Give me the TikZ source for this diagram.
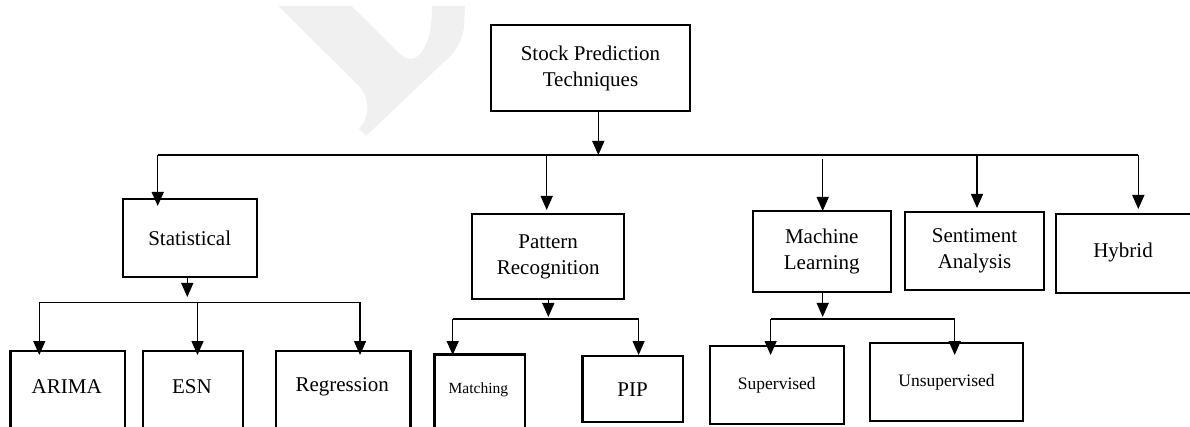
\documentclass[tikz,border=0pt]{standalone}
\usepackage{fontspec}
\setmainfont{Liberation Serif}
\usetikzlibrary{arrows.meta}
\definecolor{wm}{RGB}{240,240,240}
\tikzset{
  box/.style={draw=black, line width=2.2pt, inner sep=0pt, align=center, font=\fontsize{21}{26}\selectfont},
  lbl/.style={inner sep=0pt, align=center, font=\fontsize{21}{26}\selectfont},
  conn/.style={draw=black, line width=1.4pt},
  arr/.style={conn, -{Triangle[length=14pt,width=12pt]}}
}
\begin{document}
\begin{tikzpicture}[x=1pt,y=-1pt]
\useasboundingbox (0,0) rectangle (1190,427);
% watermark
\fill[wm] (278.3,6) -- (351.7,6) -- (399,53) .. controls (406,60) and (414,61) .. (420,54)
  .. controls (428,44) and (432,30) .. (432,6) -- (465,6) -- (464,28)
  .. controls (461,44) and (455,53) .. (444,62) -- (366,136) -- (359,129)
  .. controls (370,117) and (371,99) .. (358,85) -- cycle;
% level 0
\node[box, minimum width=199pt, minimum height=86pt] (top) at (590.5,68) {Stock Prediction\\Techniques};
% level 1
\node[box, minimum width=134pt, minimum height=77.4pt] (stat) at (189.7,238) {Statistical};
\node[box, minimum width=151.7pt, minimum height=85pt] (pat) at (548.2,256.5) {Pattern\\Recognition};
\node[box, minimum width=138.3pt, minimum height=81pt] (ml) at (821.8,251.2) {Machine\\Learning};
\node[box, minimum width=139pt, minimum height=78.6pt] (sent) at (974.5,251) {Sentiment\\Analysis};
\node[box, minimum width=137pt, minimum height=78.4pt, anchor=north west] (hyb) at (1055,213.3) {};
\node[lbl] (hybT) at (1123,252.5) {Hybrid};
% level 2: statistical
\node[box, minimum width=114.7pt, minimum height=90pt, anchor=north west] (arima) at (9.3,350) {};
\node[lbl] (arimaT) at (66.7,387) {ARIMA};
\node[box, minimum width=100.3pt, minimum height=90pt, anchor=north west] (esn) at (141.7,350) {};
\node[lbl] (esnT) at (191.9,387) {ESN};
\node[box, minimum width=134.3pt, minimum height=90pt, anchor=north west] (reg) at (275,350) {};
\node[lbl] (regT) at (342.2,387) {Regression};
% level 2: pattern
\node[box, minimum width=90.2pt, minimum height=90pt, anchor=north west] (match) at (433.3,353.3) {};
\node[lbl, font=\fontsize{15.5}{19}\selectfont] (matchT) at (478.4,390) {Matching};
\node[box, minimum width=100.2pt, minimum height=66.3pt] (pip) at (632.5,389.2) {PIP};
% level 2: ML
\node[box, minimum width=133.9pt, minimum height=78pt, font=\fontsize{17.5}{21}\selectfont] (sup) at (776.8,385) {Supervised};
\node[box, minimum width=152.7pt, minimum height=78pt, font=\fontsize{17.5}{21}\selectfont] (unsup) at (946.5,382.3) {Unsupervised};
% junctions and arrow tips
\coordinate (j0) at (598.3,155);
\coordinate (jL) at (157.7,155);
\coordinate (jR) at (1138.3,155);
\coordinate (tStat) at (157.7,206);
\coordinate (sPat) at (546.7,155);
\coordinate (tPat) at (546.7,210);
\coordinate (sMl) at (822.7,159.3);
\coordinate (tMl) at (822.7,211);
\coordinate (sSent) at (977,155);
\coordinate (tSent) at (977,208);
\coordinate (tHyb) at (1138.3,209);
\coordinate (jS) at (187.3,302.3);
\coordinate (tS) at (187.3,297);
\coordinate (jSL) at (39.3,302.3);
\coordinate (jSM) at (197.5,302.3);
\coordinate (jSR) at (360,302.3);
\coordinate (tArima) at (39.3,355);
\coordinate (tEsn) at (197.5,355);
\coordinate (tReg) at (360,355);
\coordinate (tP) at (548.3,317);
\coordinate (jPL) at (452.7,319);
\coordinate (jPR) at (638.6,319);
\coordinate (tMatch) at (452.7,355);
\coordinate (tPip) at (638.6,355);
\coordinate (tM) at (822.7,317);
\coordinate (jML) at (770.6,319);
\coordinate (jMR) at (954.7,319);
\coordinate (tSup) at (770.6,355);
\coordinate (tUnsup) at (954.7,355);
% main connectors
\draw[arr] (top.south -| j0) -- (j0);
\draw[conn] (jL) -- (jR);
\draw[arr] (jL) -- (tStat);
\draw[arr] (sPat) -- (tPat);
\draw[arr] (sMl) -- (tMl);
\draw[arr] (sSent) -- (tSent);
\draw[arr] (jR) -- (tHyb);
% statistical children
\draw[arr] (stat.south -| tS) -- (tS);
\draw[conn] (jSL) -- (jSR);
\draw[arr] (jSL) -- (tArima);
\draw[arr] (jSM) -- (tEsn);
\draw[arr] (jSR) -- (tReg);
% pattern children
\draw[arr] (pat.south -| tP) -- (tP);
\draw[conn] (jPL) -- (jPR);
\draw[arr] (jPL) -- (tMatch);
\draw[arr] (jPR) -- (tPip);
% ML children
\draw[arr] (ml.south -| tM) -- (tM);
\draw[conn] (jML) -- (jMR);
\draw[arr] (jML) -- (tSup);
\draw[arr] (jMR) -- (tUnsup);
\end{tikzpicture}
\end{document}
